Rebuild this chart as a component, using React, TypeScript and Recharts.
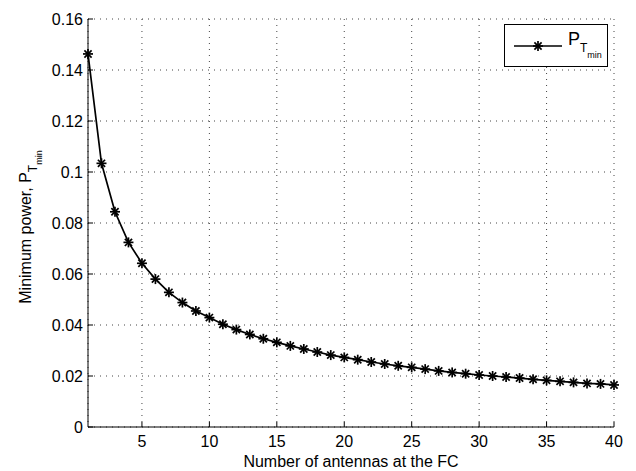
import React from 'react';
import { LineChart, Line, XAxis, YAxis, CartesianGrid } from 'recharts';

const antennas = [1, 2, 3, 4, 5, 6, 7, 8, 9, 10, 11, 12, 13, 14, 15, 16, 17, 18, 19, 20, 21, 22, 23, 24, 25, 26, 27, 28, 29, 30, 31, 32, 33, 34, 35, 36, 37, 38, 39, 40];
const powerMin = [0.1463, 0.1034, 0.0844, 0.0724, 0.0642, 0.058, 0.0528, 0.0488, 0.0455, 0.0429, 0.0403, 0.0382, 0.0363, 0.0346, 0.0332, 0.0318, 0.0306, 0.0294, 0.0282, 0.0273, 0.0264, 0.0255, 0.0247, 0.024, 0.0234, 0.0227, 0.022, 0.0214, 0.0209, 0.0204, 0.02, 0.0196, 0.0192, 0.0187, 0.0183, 0.0179, 0.0175, 0.0171, 0.0169, 0.0165];
const xTicks = [5, 10, 15, 20, 25, 30, 35, 40];
const yTicks = [0, 0.02, 0.04, 0.06, 0.08, 0.1, 0.12, 0.14, 0.16];

const data = antennas.map((n, i) => ({ n, p: powerMin[i] }));

const FONT = '"Liberation Sans", Arial, Helvetica, sans-serif';

const Star = ({ cx, cy }: { cx?: number; cy?: number }) => {
  if (cx == null || cy == null) return null;
  const r = 5;
  const d = 3.6;
  return (
    <g stroke="#000" strokeWidth={1.7}>
      <line x1={cx - r} y1={cy} x2={cx + r} y2={cy} />
      <line x1={cx} y1={cy - r} x2={cx} y2={cy + r} />
      <line x1={cx - d} y1={cy - d} x2={cx + d} y2={cy + d} />
      <line x1={cx - d} y1={cy + d} x2={cx + d} y2={cy - d} />
    </g>
  );
};

const LegendBox = () => (
  <svg width={104} height={43} style={{ display: 'block' }}>
    <rect x={0.5} y={0.5} width={103} height={42} fill="#fff" stroke="#000" strokeWidth={1} />
    <line x1={10} y1={22} x2={58} y2={22} stroke="#000" strokeWidth={1.7} />
    <Star cx={34} cy={22} />
    <text x={64} y={21} fontSize={18} fontFamily={FONT} fill="#000">
      P<tspan fontSize={12} dy={7}>T</tspan>
      <tspan fontSize={9} dy={6}>min</tspan>
    </text>
  </svg>
);

export default function App() {
  return (
    <div style={{ position: 'relative', width: 620, height: 463 }}>
      <LineChart
        width={620}
        height={463}
        data={data}
        margin={{ top: 11, right: 14, left: 20, bottom: 14 }}
        style={{ fontFamily: FONT }}
      >
        <CartesianGrid stroke="#444" strokeDasharray="1 5" strokeWidth={1} />
        <XAxis
          dataKey="n"
          type="number"
          domain={[1, 40]}
          ticks={xTicks}
          interval={0}
          height={30}
          axisLine={{ stroke: '#000', strokeWidth: 1 }}
          tickLine={{ stroke: '#000' }}
          tickSize={-5}
          tickMargin={14}
          tick={{ fill: '#000', fontSize: 16, fontFamily: FONT }}
          label={{
            content: (props: any) => {
              const vb = props.viewBox || { x: 80, width: 526 };
              return (
                <text x={vb.x + vb.width / 2} y={459} textAnchor="middle" fontSize={16} fontFamily={FONT} fill="#000">
                  Number of antennas at the FC
                </text>
              );
            },
          }}
        />
        <XAxis
          xAxisId="top"
          orientation="top"
          dataKey="n"
          type="number"
          domain={[1, 40]}
          ticks={xTicks}
          interval={0}
          height={0}
          axisLine={{ stroke: '#000', strokeWidth: 1 }}
          tickLine={{ stroke: '#000' }}
          tickSize={-5}
          tick={false}
        />
        <YAxis
          type="number"
          domain={[0, 0.16]}
          ticks={yTicks}
          interval={0}
          width={60}
          axisLine={{ stroke: '#000', strokeWidth: 1 }}
          tickLine={{ stroke: '#000' }}
          tickSize={-5}
          tickMargin={10}
          tickFormatter={(v: number) => String(+v.toFixed(2))}
          tick={{ fill: '#000', fontSize: 16, fontFamily: FONT }}
          label={{
            content: () => (
              <text
                x={23}
                y={219}
                transform="rotate(-90, 23, 219)"
                textAnchor="middle"
                fontSize={16}
                fontFamily={FONT}
                fill="#000"
              >
                Minimum power, P<tspan fontSize={12} dy={6}>T</tspan>
                <tspan fontSize={9} dy={5}>min</tspan>
              </text>
            ),
          }}
        />
        <YAxis
          yAxisId="right"
          orientation="right"
          type="number"
          domain={[0, 0.16]}
          ticks={yTicks}
          interval={0}
          width={0}
          axisLine={{ stroke: '#000', strokeWidth: 1 }}
          tickLine={{ stroke: '#000' }}
          tickSize={-5}
          tick={false}
        />
        <Line
          type="linear"
          dataKey="p"
          stroke="#000"
          strokeWidth={1.7}
          isAnimationActive={false}
          dot={(props: any) => <Star key={`dot-${props.index}`} cx={props.cx} cy={props.cy} />}
          activeDot={false}
        />
      </LineChart>
      <div style={{ position: 'absolute', left: 496, top: 16 }}>
        <LegendBox />
      </div>
    </div>
  );
}
